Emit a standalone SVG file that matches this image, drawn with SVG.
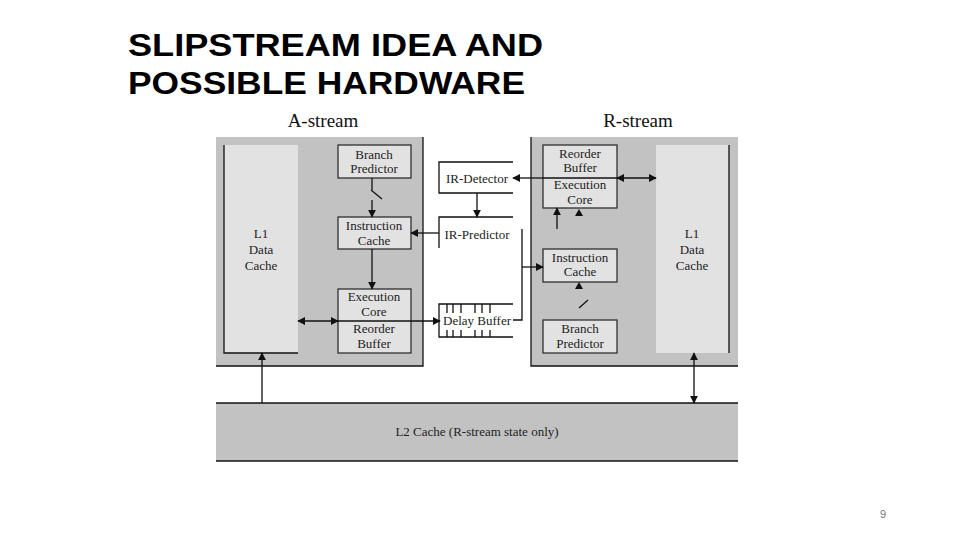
<svg xmlns="http://www.w3.org/2000/svg" width="960" height="540" viewBox="0 0 960 540">
<defs>
<style>
.t{font-family:"Liberation Serif","Times New Roman",serif;font-size:13px;fill:#222;text-anchor:middle}
.h{font-family:"Liberation Serif","Times New Roman",serif;font-size:19px;fill:#111;text-anchor:middle}
.ttl{font-family:"Liberation Sans",Arial,sans-serif;font-weight:700;font-size:32px;fill:#000}
.bg{fill:#c2c2c2}
.box{fill:#e2e2e2;stroke:#222;stroke-width:1.2}
.lt{fill:#e2e2e2}
.ln{stroke:#111;stroke-width:1.3;fill:none}
</style>
<marker id="ar" viewBox="0 0 10 10" refX="9" refY="5" markerWidth="8" markerHeight="8" markerUnits="userSpaceOnUse" orient="auto-start-reverse">
<path d="M0,0 L10,5 L0,10 z" fill="#111"/>
</marker>
</defs>
<rect width="960" height="540" fill="#fff"/>
<g id="title">
<text class="ttl" x="128" y="56" textLength="415" lengthAdjust="spacingAndGlyphs">SLIPSTREAM IDEA AND</text>
<text class="ttl" x="128" y="94" textLength="397" lengthAdjust="spacingAndGlyphs">POSSIBLE HARDWARE</text>
</g>
<text class="h" x="323" y="127">A-stream</text>
<text class="h" x="638" y="127">R-stream</text>
<g id="a-stream">
<rect class="bg" x="216" y="137" width="207" height="229"/>
<path class="ln" d="M216,366 H423 V137"/>
</g>
<g id="r-stream">
<rect class="bg" x="531" y="137" width="207" height="229"/>
<path class="ln" d="M531,137 V366 H738"/>
</g>
<g id="a-l1">
<rect class="lt" x="224" y="145" width="74" height="208"/>
<path class="ln" d="M224,145 V353 H298"/>
<text class="t" x="261" y="238">L1</text>
<text class="t" x="261" y="254">Data</text>
<text class="t" x="261" y="270">Cache</text>
</g>
<g id="a-bp">
<rect class="box" x="338" y="145" width="73" height="33"/>
<text class="t" x="374" y="159">Branch</text>
<text class="t" x="374" y="173">Predictor</text>
</g>
<g id="a-ic">
<rect class="box" x="338" y="217" width="73" height="32"/>
<text class="t" x="374" y="230">Instruction</text>
<text class="t" x="374" y="245">Cache</text>
</g>
<g id="a-ex">
<rect class="box" x="338" y="289" width="73" height="64"/>
<text class="t" x="374" y="301">Execution</text>
<text class="t" x="374" y="316">Core</text>
<text class="t" x="374" y="333">Reorder</text>
<text class="t" x="374" y="348">Buffer</text>
</g>
<g id="ir-detector">
<path class="ln" d="M513,162 H439 V193 H513"/>
<text class="t" x="477" y="183">IR-Detector</text>
</g>
<g id="ir-predictor">
<path class="ln" d="M513,217 H439 V248"/>
<text class="t" x="477" y="239">IR-Predictor</text>
</g>
<g id="delay-buffer">
<path class="ln" d="M513,304 H439 V337 H513"/>
<path class="ln" stroke-width="1" d="M447,304 V313 M453,304 V313 M461,304 V313 M475,304 V313 M482,304 V313 M490,304 V313 M447,330 V337 M453,330 V337 M461,330 V337 M475,330 V337 M482,330 V337 M490,330 V337"/>
<text class="t" x="477" y="325">Delay Buffer</text>
</g>
<g id="r-rob">
<rect class="box" x="543" y="145" width="74" height="63"/>
<text class="t" x="580" y="158">Reorder</text>
<text class="t" x="580" y="172">Buffer</text>
<text class="t" x="580" y="189">Execution</text>
<text class="t" x="580" y="204">Core</text>
</g>
<g id="r-ic">
<rect class="box" x="543" y="249" width="74" height="33"/>
<text class="t" x="580" y="262">Instruction</text>
<text class="t" x="580" y="276">Cache</text>
</g>
<g id="r-bp">
<rect class="box" x="543" y="320" width="74" height="33"/>
<text class="t" x="580" y="333">Branch</text>
<text class="t" x="580" y="348">Predictor</text>
</g>
<g id="r-l1">
<rect class="lt" x="656" y="145" width="73" height="208"/>
<path class="ln" d="M729,145 V353"/>
<text class="t" x="692" y="238">L1</text>
<text class="t" x="692" y="254">Data</text>
<text class="t" x="692" y="270">Cache</text>
</g>
<g id="l2">
<rect class="bg" x="216" y="403" width="522" height="58"/>
<path class="ln" d="M216,403 H738 M216,461 H738"/>
<text class="t" x="477" y="436">L2 Cache (R-stream state only)</text>
</g>
<g id="connectors">
<path class="ln" d="M372,178 V190 M371,190 L382,199 M372,200 V217" marker-end="url(#ar)"/>
<path class="ln" d="M372,249 V289" marker-end="url(#ar)"/>
<path class="ln" d="M298,321 H338" marker-start="url(#ar)" marker-end="url(#ar)"/>
<path class="ln" d="M338,321 H440" marker-end="url(#ar)"/>
<path class="ln" d="M439,233 H411" marker-end="url(#ar)"/>
<path class="ln" d="M543,178 H513" marker-end="url(#ar)"/>
<path class="ln" d="M543,178 H617"/>
<path class="ln" d="M617,178 H656" marker-start="url(#ar)" marker-end="url(#ar)"/>
<path class="ln" d="M477,193 V217" marker-end="url(#ar)"/>
<path class="ln" d="M513,320 H522 V229"/>
<path class="ln" d="M522,267 H543" marker-end="url(#ar)"/>
<path class="ln" d="M557,229 V208" marker-end="url(#ar)"/>
<path d="M575,216 L579,209 L583,216 z" fill="#111"/>
<path d="M575,289 L579,282 L583,289 z" fill="#111"/>
<path class="ln" d="M579,308 L588,300"/>
<path class="ln" d="M262,403 V353" marker-end="url(#ar)"/>
<path class="ln" d="M694,353 V403" marker-start="url(#ar)" marker-end="url(#ar)"/>
</g>
<text x="883" y="518" font-family="Liberation Sans,sans-serif" font-size="11" fill="#777" text-anchor="middle">9</text>
</svg>
